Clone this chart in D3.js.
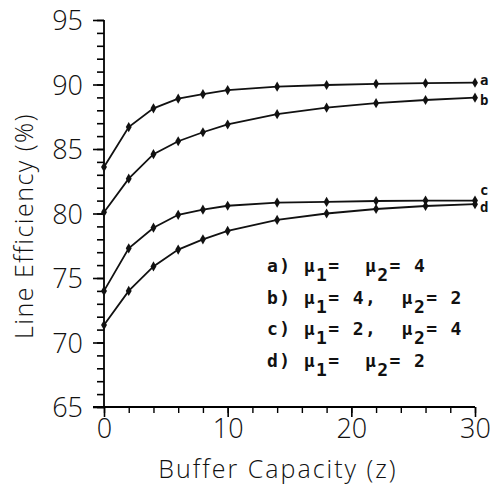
<!DOCTYPE html>
<meta charset="utf-8">
<head>
    <script src="https://d3js.org/d3.v7.min.js"></script>
</head>
<body style="margin:0; background:#fff;">
    <div id="svg_div"></div>
</body>
<style>
    .tick-label { font-family: "Open Sans", "DejaVu Sans", sans-serif; font-weight: 300; fill: #111; }
    .legend { font-family: "DejaVu Sans Mono", "Liberation Mono", monospace; font-weight: bold; fill: #111; }
</style>
<script>
    // buffer capacity values where points were computed
    var buffer_sizes = [0, 2, 4, 6, 8, 10, 14, 18, 22, 26, 30];

    var series_a = [83.6, 86.7, 88.15, 88.9, 89.25, 89.57, 89.83, 89.96, 90.05, 90.1, 90.14];
    var series_b = [80.1, 82.7, 84.6, 85.6, 86.3, 86.9, 87.7, 88.2, 88.55, 88.8, 88.98];
    var series_c = [74.0, 77.3, 78.9, 79.9, 80.3, 80.6, 80.85, 80.9, 80.97, 81.0, 81.0];
    var series_d = [71.35, 74.0, 75.9, 77.2, 78.0, 78.65, 79.5, 80.0, 80.35, 80.58, 80.72];

    var series_names = ["a", "b", "c", "d"];
    var x_ticks = [0, 10, 20, 30];
    var y_ticks = [65, 70, 75, 80, 85, 90, 95];

    // legend lines: [label, mu1 part, mu2 value]
    var legend_rows = [
        ["a)", "", "4"],
        ["b)", " 4,", "2"],
        ["c)", " 2,", "4"],
        ["d)", "", "2"]
    ];

    function draw_chart() {
        let width = 493, height = 489;
        let svg = d3.select("#svg_div").append("svg")
            .attr("width", width)
            .attr("height", height);

        let x = d3.scaleLinear().domain([0, 30]).range([104, 475]);
        let y = d3.scaleLinear().domain([65, 95]).range([407, 20]);

        let all_series = [series_a, series_b, series_c, series_d];
        let nb = s => s.replace(/ /g, "\u00a0");

        // y axis, ticks on the left
        let y_minor = d3.range(65, 96, 1);
        svg.append("g")
            .attr("transform", "translate(" + x(0) + ",0)")
            .call(d3.axisLeft(y).tickValues(y_minor).tickSize(7).tickFormat(""))
            .call(g => g.select(".domain").attr("stroke-width", 1.8).attr("d", "M0," + y(95) + "V" + y(65)))
            .call(g => g.selectAll(".tick line").attr("stroke-width", 1.6));
        svg.append("g")
            .attr("transform", "translate(" + x(0) + ",0)")
            .call(d3.axisLeft(y).tickValues(y_ticks).tickSize(11).tickPadding(10).tickFormat(d3.format("d")))
            .call(g => g.select(".domain").remove())
            .call(g => g.selectAll(".tick line").attr("stroke-width", 1.6))
            .call(g => g.selectAll(".tick text").attr("class", "tick-label").style("font-size", "27px").attr("dy", "0.36em"));

        // x axis, ticks below
        let x_minor = d3.range(0, 31, 2);
        svg.append("g")
            .attr("transform", "translate(0," + y(65) + ")")
            .call(d3.axisBottom(x).tickValues(x_minor).tickSize(6).tickFormat(""))
            .call(g => g.select(".domain").attr("stroke-width", 1.8).attr("d", "M" + (x(0) - 11) + ",0H" + x(30)))
            .call(g => g.selectAll(".tick line").attr("stroke-width", 1.4));
        svg.append("g")
            .attr("transform", "translate(0," + y(65) + ")")
            .call(d3.axisBottom(x).tickValues(x_ticks).tickSize(10).tickPadding(2).tickFormat(d3.format("d")))
            .call(g => g.select(".domain").remove())
            .call(g => g.selectAll(".tick line").attr("stroke-width", 1.6))
            .call(g => g.selectAll(".tick text").attr("class", "tick-label").style("font-size", "27px"));

        // axis titles
        svg.append("text")
            .attr("class", "tick-label")
            .attr("x", 278).attr("y", 478)
            .attr("text-anchor", "middle")
            .style("font-size", "25px")
            .style("letter-spacing", "2px")
            .text("Buffer Capacity (z)");
        svg.append("text")
            .attr("class", "tick-label")
            .attr("transform", "translate(33,226) rotate(-90)")
            .attr("text-anchor", "middle")
            .style("font-size", "25px")
            .style("letter-spacing", "1.5px")
            .text("Line Efficiency (%)");

        let line = d3.line()
            .x((d, i) => x(buffer_sizes[i]))
            .y(d => y(d));

        let label_offsets = { a: -3, b: 2, c: -11, d: 3 };

        all_series.forEach((values, k) => {
            svg.append("path")
                .attr("d", line(values))
                .attr("fill", "none")
                .attr("stroke", "#111")
                .attr("stroke-width", 1.8);

            svg.append("g").selectAll("path")
                .data(values)
                .enter().append("path")
                .attr("transform", (d, i) => "translate(" + x(buffer_sizes[i]) + "," + y(d) + ")")
                .attr("d", d3.symbol().type(d3.symbolDiamond).size(30))
                .attr("fill", "#111");

            // label at the end of each curve
            let last = values[values.length - 1];
            svg.append("text")
                .attr("class", "legend")
                .style("font-size", "14px")
                .attr("x", x(30) + 5)
                .attr("y", y(last) + label_offsets[series_names[k]])
                .attr("dy", "0.35em")
                .text(series_names[k]);
        });

        // legend text block (monospace, subscripts dropped below the line)
        let legend_g = svg.append("g")
            .attr("class", "legend")
            .style("font-size", "18px")
            .style("letter-spacing", "1.4px");
        legend_rows.forEach((row, i) => {
            let t = legend_g.append("text")
                .attr("x", 267)
                .attr("y", 272 + i * 31.5);
            t.append("tspan").text(nb(row[0] + " \u03bc"));
            t.append("tspan").attr("dy", 9).text("1");
            t.append("tspan").attr("dy", -9).text(nb("=" + row[1] + "  \u03bc"));
            t.append("tspan").attr("dy", 9).text("2");
            t.append("tspan").attr("dy", -9).text(nb("= " + row[2]));
        });
    }

    draw_chart();
</script>
